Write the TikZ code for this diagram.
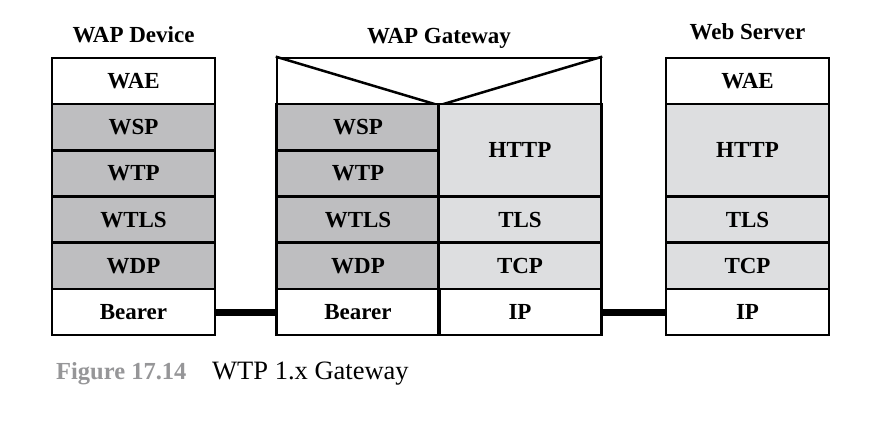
\documentclass[tikz,border=0pt]{standalone}
\usepackage{fontspec}
\setmainfont{Liberation Serif}
\usetikzlibrary{positioning}

\begin{document}
\begin{tikzpicture}[
    x=1pt, y=-1pt,
    font=\fontsize{23}{27}\selectfont\bfseries,
    cell/.style={rectangle, draw=black, line width=2.5pt, minimum width=163pt, minimum height=46.2pt, inner sep=0pt, align=center},
    dark/.style={cell, fill=cdark},
    light/.style={cell, fill=clight},
    tall/.style={minimum height=92.4pt},
    title/.style={anchor=base, font=\fontsize{23}{27}\selectfont\bfseries},
    link/.style={line width=7pt}
]
\definecolor{cdark}{RGB}{190,190,192}
\definecolor{clight}{RGB}{221,222,224}
\definecolor{cgrey}{RGB}{150,150,152}

\useasboundingbox (0,0) rectangle (878,424);

% titles
\node[title] (devtitle) at (133.5,42) {WAP Device};
\node[title] (gwtitle) at (439,43) {WAP Gateway};
\node[title] (srvtitle) at (747.5,39) {Web Server};

% WAP device stack
\node[cell] (devwae) at (133.5,81) {WAE};
\node[dark] (devwsp) at (133.5,127.2) {WSP};
\node[dark] (devwtp) at (133.5,173.4) {WTP};
\node[dark] (devwtls) at (133.5,219.6) {WTLS};
\node[dark] (devwdp) at (133.5,265.8) {WDP};
\node[cell] (devbearer) at (133.5,312) {Bearer};

% WAP gateway stack
\node[cell, minimum width=324pt] (gwtop) at (439,81) {};
\draw[line width=2.5pt, line join=round] (gwtop.north west) -- (gwtop.south) -- (gwtop.north east);
\node[dark] (gwwsp) at (358,127.2) {WSP};
\node[dark] (gwwtp) at (358,173.4) {WTP};
\node[dark] (gwwtls) at (358,219.6) {WTLS};
\node[dark] (gwwdp) at (358,265.8) {WDP};
\node[cell] (gwbearer) at (358,312) {Bearer};
\node[light, tall] (gwhttp) at (520,150.3) {HTTP};
\node[light] (gwtls) at (520,219.6) {TLS};
\node[light] (gwtcp) at (520,265.8) {TCP};
\node[cell] (gwip) at (520,312) {IP};

% web server stack
\node[cell] (srvwae) at (747.5,81) {WAE};
\node[light, tall] (srvhttp) at (747.5,150.3) {HTTP};
\node[light] (srvtls) at (747.5,219.6) {TLS};
\node[light] (srvtcp) at (747.5,265.8) {TCP};
\node[cell] (srvip) at (747.5,312) {IP};

% links
\draw[link] (devbearer.east) -- (gwbearer.west);
\draw[link] (gwip.east) -- (srvip.west);

% caption
\node[anchor=base west, inner sep=0pt, text=cgrey, font=\fontsize{24.5}{28}\selectfont\bfseries] (capnum) at (56,379) {Figure 17.14};
\node[anchor=base west, inner sep=0pt, font=\fontsize{26.5}{30}\selectfont] (captext) at (212,379) {WTP 1.x Gateway};
\end{tikzpicture}
\end{document}
